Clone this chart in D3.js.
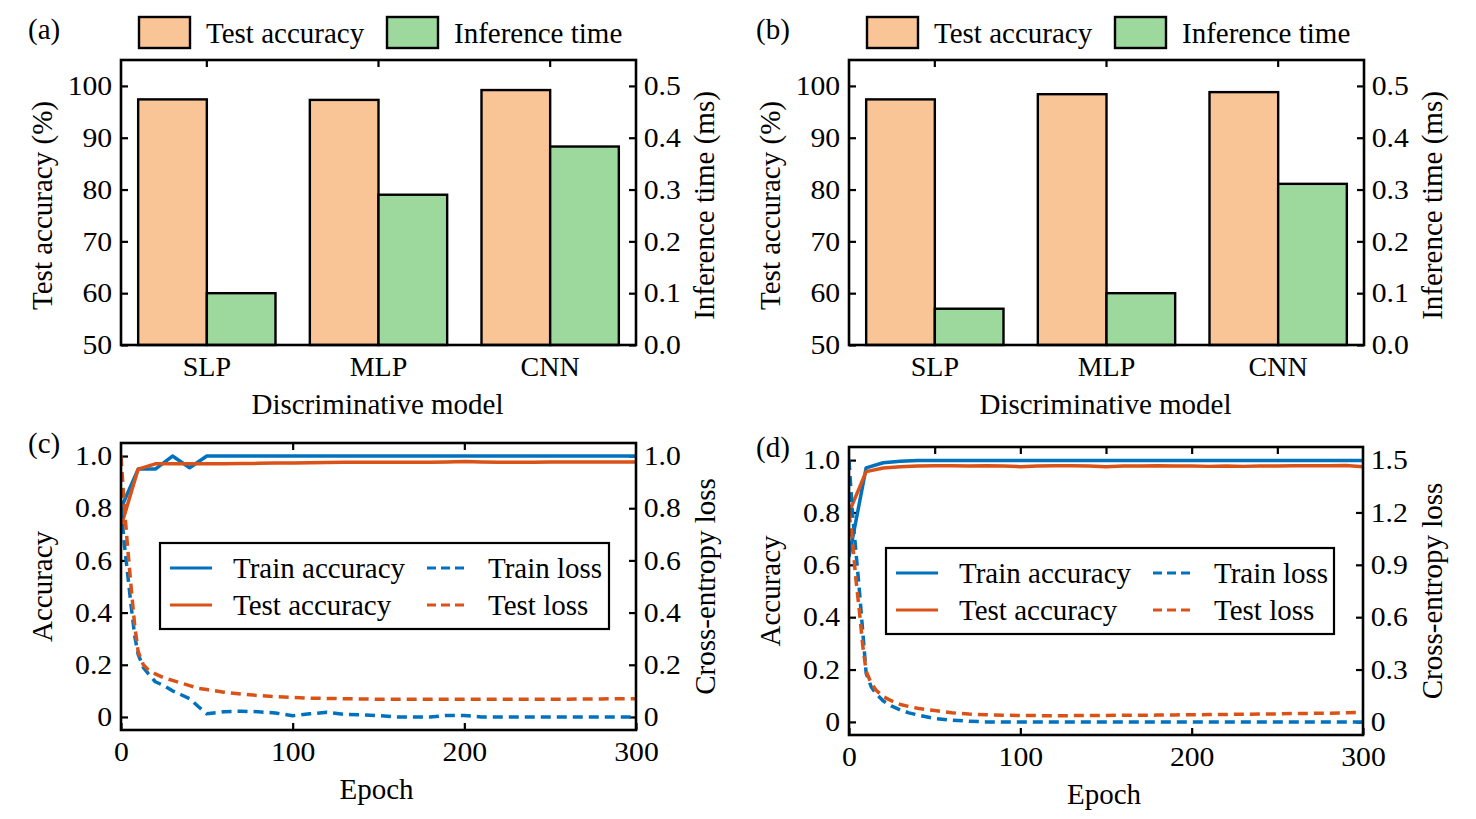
<!DOCTYPE html>
<html><head><meta charset="utf-8">
<script src="https://cdn.jsdelivr.net/npm/d3@7"></script>
<style>
body{margin:0;background:#fff}
svg{display:block}
text{font-family:"Liberation Serif","Times New Roman",serif;fill:#000}
</style>
</head><body>
<svg id="chart" width="1476" height="819"></svg>
<script>
// ---------------- data ----------------
const models = ["SLP", "MLP", "CNN"];
const accTicks = [50, 60, 70, 80, 90, 100];
const timeTicks = [0.0, 0.1, 0.2, 0.3, 0.4, 0.5];

const accA = [97.4, 97.3, 99.2];
const timeA = [0.100, 0.290, 0.383];
const accB = [97.4, 98.4, 98.8];
const timeB = [0.070, 0.100, 0.311];

const epochTicks = [0, 100, 200, 300];
const accuracyTicks = [0, 0.2, 0.4, 0.6, 0.8, 1.0];
const lossTicksC = [0, 0.2, 0.4, 0.6, 0.8, 1.0];
const lossTicksD = [0, 0.3, 0.6, 0.9, 1.2, 1.5];

const accEpochs = [0,10,20,30,40,50,60,70,80,90,100,110,120,130,140,150,160,170,180,190,200,210,220,230,240,250,260,270,280,290,300];
const trainAccC = [0.80,0.95,0.95,1.00,0.955,1.00,1.00,1.00,1.00,1.00,1.00,1.00,1.00,1.00,1.00,1.00,1.00,1.00,1.00,1.00,1.00,1.00,1.00,1.00,1.00,1.00,1.00,1.00,1.00,1.00,1.00];
const testAccC  = [0.73,0.95,0.97,0.97,0.97,0.97,0.97,0.971,0.972,0.973,0.973,0.974,0.975,0.976,0.976,0.976,0.976,0.976,0.976,0.977,0.979,0.977,0.976,0.976,0.976,0.977,0.977,0.977,0.977,0.977,0.977];
const trainAccD = [0.63,0.97,0.99,0.996,0.998,0.998,0.998,0.998,0.998,0.998,0.998,0.998,0.998,0.998,0.998,0.998,0.998,0.998,0.998,0.998,0.998,0.998,0.998,0.998,0.998,0.998,0.998,0.998,0.998,0.998,0.998];
const testAccD  = [0.80,0.956,0.970,0.975,0.977,0.978,0.978,0.977,0.978,0.977,0.975,0.977,0.978,0.978,0.977,0.975,0.977,0.977,0.978,0.977,0.977,0.976,0.977,0.976,0.977,0.977,0.978,0.978,0.978,0.979,0.975];

const lossEpochs = [0,2,4,6,8,10,13,16,20,25,30,35,40,45,50,60,70,80,90,100,110,120,130,140,150,160,170,180,190,200,210,220,230,240,250,260,270,280,290,300];
const trainLossC = [0.80,0.66,0.54,0.42,0.31,0.24,0.19,0.165,0.135,0.12,0.10,0.085,0.07,0.04,0.012,0.02,0.022,0.02,0.015,0.005,0.012,0.018,0.01,0.008,0.005,0,0,0,0.006,0.006,0,0,0,0,0,0,0,0,0,0];
const testLossC  = [1.00,0.80,0.64,0.49,0.35,0.25,0.20,0.18,0.165,0.15,0.14,0.13,0.12,0.11,0.105,0.095,0.088,0.082,0.078,0.075,0.072,0.071,0.070,0.069,0.068,0.068,0.068,0.068,0.068,0.068,0.068,0.068,0.068,0.068,0.068,0.068,0.069,0.069,0.070,0.070];
const trainLossD = [1.50,1.20,0.98,0.76,0.52,0.28,0.20,0.16,0.12,0.09,0.068,0.052,0.04,0.03,0.02,0.01,0.004,0,0,0,0,0,0,0,0,0,0,0,0,0,0,0,0,0,0,0,0,0,0,0];
const testLossD  = [1.20,1.04,0.82,0.64,0.44,0.29,0.22,0.18,0.145,0.12,0.10,0.088,0.078,0.071,0.065,0.052,0.045,0.041,0.038,0.037,0.036,0.036,0.036,0.037,0.037,0.038,0.038,0.039,0.040,0.041,0.042,0.043,0.044,0.045,0.046,0.048,0.049,0.050,0.052,0.055];

// ---------------- style ----------------
const BLUE = "#0072BD", ORANGE = "#D95319";
const BAR_ACC = "#F9C596", BAR_TIME = "#9DD89C";
const TICK_FS = 27, TICK_SX = 1.1, LABEL_FS = 29;
const SPINE_W = 2.6, TICK_LEN = 7;
const LINE_W = 3.5, DASH = "10,6";

const svg = d3.select("#chart");

function frame(g, x0, x1, y0, y1) {
  g.append("rect").attr("x", x0).attr("y", y0).attr("width", x1 - x0).attr("height", y1 - y0)
    .attr("fill", "none").attr("stroke", "#000").attr("stroke-width", SPINE_W);
}
function styleAxis(sel) {
  sel.select(".domain").remove();
  sel.selectAll(".tick line").attr("stroke", "#000").attr("stroke-width", 2.2);
  sel.selectAll(".tick text").attr("font-size", TICK_FS).attr("font-family", '"Liberation Serif",serif')
    .attr("fill", "#000").attr("transform", `scale(${TICK_SX},1)`);
}
function fmtNum(d) { return d === 0 ? "0" : d3.format(".1f")(d); }

function vLabel(g, text, x, y) {
  g.append("text").attr("transform", `translate(${x},${y}) rotate(-90)`)
    .attr("text-anchor", "middle").attr("dy", "0.35em").attr("font-size", LABEL_FS).text(text);
}
function hLabel(g, text, x, y) {
  g.append("text").attr("x", x).attr("y", y).attr("text-anchor", "middle").attr("font-size", LABEL_FS).text(text);
}

// ---------------- bar panels ----------------
function barPanel(cfg, acc, time) {
  const g = svg.append("g");
  const {x0, x1, y0, y1} = cfg;
  const x = d3.scaleBand().domain(models).range([x0, x1]).paddingInner(0.2).paddingOuter(0.1);
  const yL = d3.scaleLinear().domain([50, 105]).range([y1, y0]);
  const yR = d3.scaleLinear().domain([0, 0.55]).range([y1, y0]);
  const bw = x.bandwidth() / 2;

  g.append("g").attr("transform", `translate(${x0},0)`)
    .call(d3.axisLeft(yL).tickValues(accTicks).tickSize(-TICK_LEN).tickPadding(8).tickFormat(d3.format("d"))).call(styleAxis);
  g.append("g").attr("transform", `translate(${x1},0)`)
    .call(d3.axisRight(yR).tickValues(timeTicks).tickSize(-TICK_LEN).tickPadding(7).tickFormat(d3.format(".1f"))).call(styleAxis);
  g.append("g").attr("transform", `translate(0,${y0})`)
    .call(d3.axisTop(x).tickSize(-TICK_LEN).tickFormat("")).call(styleAxis);
  const bx = g.append("g").attr("transform", `translate(0,${y1})`)
    .call(d3.axisBottom(x).tickSize(0).tickPadding(11)).call(styleAxis);
  // keep category labels centred under their ticks despite the horizontal stretch
  bx.selectAll(".tick text").attr("transform", null).attr("font-size", TICK_FS + 1);

  g.selectAll(".acc").data(models).join("rect")
    .attr("x", d => x(d)).attr("width", bw)
    .attr("y", (d, i) => yL(acc[i])).attr("height", (d, i) => y1 - yL(acc[i]))
    .attr("fill", BAR_ACC).attr("stroke", "#000").attr("stroke-width", 2.4);
  g.selectAll(".time").data(models).join("rect")
    .attr("x", d => x(d) + bw).attr("width", bw)
    .attr("y", (d, i) => yR(time[i])).attr("height", (d, i) => y1 - yR(time[i]))
    .attr("fill", BAR_TIME).attr("stroke", "#000").attr("stroke-width", 2.4);

  frame(g, x0, x1, y0, y1);

  vLabel(g, "Test accuracy (%)", x0 - 79, (y0 + y1) / 2 + 3);
  vLabel(g, "Inference time (ms)", x1 + 68, (y0 + y1) / 2 + 3);
  hLabel(g, "Discriminative model", (x0 + x1) / 2 - 1, y1 + 69);

  g.append("text").attr("x", x0 - 93).attr("y", 39).attr("font-size", LABEL_FS).text(cfg.tag);

  const items = [["Test accuracy", BAR_ACC], ["Inference time", BAR_TIME]];
  items.forEach((it, i) => {
    const lx = x0 + 18 + i * 248;
    g.append("rect").attr("x", lx).attr("y", 17).attr("width", 51).attr("height", 31)
      .attr("fill", it[1]).attr("stroke", "#000").attr("stroke-width", 2.4);
    g.append("text").attr("x", lx + 67).attr("y", 43).attr("font-size", LABEL_FS).text(it[0]);
  });
}

// ---------------- line panels ----------------
function linePanel(cfg, trainAcc, testAcc, trainLoss, testLoss, lossDomain, lossTicks, topTicks) {
  const g = svg.append("g");
  const {x0, x1, y0, y1} = cfg;
  const x = d3.scaleLinear().domain([0, 300]).range([x0, x1]);
  const yL = d3.scaleLinear().domain([-0.05, 1.05]).range([y1, y0]);
  const yR = d3.scaleLinear().domain(lossDomain).range([y1, y0]);

  g.append("g").attr("transform", `translate(${x0},0)`)
    .call(d3.axisLeft(yL).tickValues(accuracyTicks).tickSize(-TICK_LEN).tickPadding(8).tickFormat(fmtNum)).call(styleAxis);
  g.append("g").attr("transform", `translate(${x1},0)`)
    .call(d3.axisRight(yR).tickValues(lossTicks).tickSize(-TICK_LEN).tickPadding(7).tickFormat(fmtNum)).call(styleAxis);
  g.append("g").attr("transform", `translate(0,${y1})`)
    .call(d3.axisBottom(x).tickValues(epochTicks).tickSize(-TICK_LEN).tickPadding(12).tickFormat(d3.format("d"))).call(styleAxis);
  g.append("g").attr("transform", `translate(0,${y0})`)
    .call(d3.axisTop(x).tickValues(topTicks).tickSize(-TICK_LEN).tickFormat("")).call(styleAxis);

  const clipId = "clip" + cfg.tag.replace(/[()]/g, "");
  g.append("clipPath").attr("id", clipId).append("rect")
    .attr("x", x0).attr("y", y0).attr("width", x1 - x0).attr("height", y1 - y0);
  const plot = g.append("g").attr("clip-path", `url(#${clipId})`);

  const accLine = d3.line().x((d, i) => x(accEpochs[i])).y(d => yL(d));
  const lossLine = d3.line().x((d, i) => x(lossEpochs[i])).y(d => yR(d));
  const series = [
    [trainAcc, accLine, BLUE, null],
    [testAcc, accLine, ORANGE, null],
    [trainLoss, lossLine, BLUE, DASH],
    [testLoss, lossLine, ORANGE, DASH]
  ];
  series.forEach(s => {
    plot.append("path").datum(s[0]).attr("d", s[1]).attr("fill", "none")
      .attr("stroke", s[2]).attr("stroke-width", LINE_W).attr("stroke-linejoin", "round")
      .attr("stroke-dasharray", s[3]);
  });

  const L = cfg.legend;
  g.append("rect").attr("x", L.x).attr("y", L.y).attr("width", L.w).attr("height", L.h)
    .attr("fill", "#fff").attr("stroke", "#000").attr("stroke-width", 2.2);
  const entries = [
    ["Train accuracy", BLUE, null, 0, 0],
    ["Test accuracy", ORANGE, null, 0, 1],
    ["Train loss", BLUE, "9,5", 1, 0],
    ["Test loss", ORANGE, "9,5", 1, 1]
  ];
  entries.forEach(e => {
    const lx = L.x + (e[3] ? 267 : 10);
    const len = e[3] ? 37 : 42;
    const ly = L.y + 25 + e[4] * 37;
    g.append("line").attr("x1", lx).attr("x2", lx + len).attr("y1", ly).attr("y2", ly)
      .attr("stroke", e[1]).attr("stroke-width", 3).attr("stroke-dasharray", e[2]);
    g.append("text").attr("x", lx + (e[3] ? 61 : 63)).attr("y", ly).attr("dy", "0.35em")
      .attr("font-size", LABEL_FS).text(e[0]);
  });

  frame(g, x0, x1, y0, y1);

  vLabel(g, "Accuracy", x0 - 79, (y0 + y1) / 2);
  vLabel(g, "Cross-entropy loss", x1 + 69, (y0 + y1) / 2);
  hLabel(g, "Epoch", (x0 + x1) / 2 - 2, y1 + 69);
  g.append("text").attr("x", x0 - 93).attr("y", y0 + 10).attr("font-size", LABEL_FS).text(cfg.tag);
}

barPanel({x0: 121, x1: 636, y0: 60, y1: 345, tag: "(a)"}, accA, timeA);
barPanel({x0: 849, x1: 1364, y0: 60, y1: 345, tag: "(b)"}, accB, timeB);
linePanel({x0: 121, x1: 636, y0: 443, y1: 730, tag: "(c)", legend: {x: 160, y: 543, w: 449, h: 86}},
  trainAccC, testAccC, trainLossC, testLossC, [-0.05, 1.05], lossTicksC, [100, 200]);
linePanel({x0: 849, x1: 1363, y0: 447, y1: 735, tag: "(d)", legend: {x: 886, y: 548, w: 448, h: 86}},
  trainAccD, testAccD, trainLossD, testLossD, [-0.075, 1.575], lossTicksD, [50, 100, 150, 200, 250]);
</script>
</body></html>
